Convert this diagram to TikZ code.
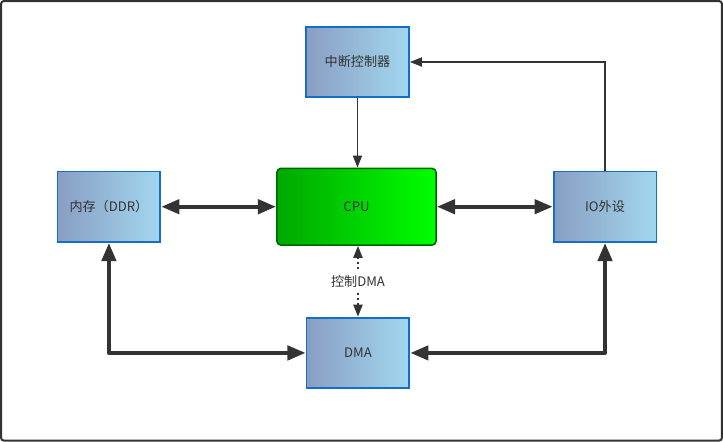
\documentclass[tikz,border=0pt]{standalone}
\usepackage{fontspec}
\setmainfont{Noto Sans CJK SC}
\usetikzlibrary{arrows.meta}
\definecolor{boxblue}{RGB}{20,110,200}
\definecolor{boxleft}{RGB}{137,158,195}
\definecolor{boxright}{RGB}{162,215,238}
\definecolor{cpuleft}{RGB}{0,168,0}
\definecolor{cpuright}{RGB}{0,255,0}
\definecolor{cpuedge}{RGB}{0,100,0}
\definecolor{ink}{RGB}{51,51,51}

\begin{document}
\begin{tikzpicture}[x=1pt,y=-1pt,font=\fontsize{13}{15}\selectfont,text=ink]
    \tikzstyle{unit}=[draw=boxblue,line width=1.8pt,left color=boxleft,right color=boxright,minimum width=102pt,minimum height=70pt,inner sep=0pt]
    \tikzstyle{core}=[draw=cpuedge,line width=1.5pt,rounded corners=4pt,left color=cpuleft,right color=cpuright,minimum width=158pt,minimum height=76pt]
    \tikzstyle{bus}=[line width=4pt,draw=ink,line join=round,{Triangle[length=18pt,width=14pt]}-{Triangle[length=18pt,width=14pt]}]
    \tikzstyle{wire}=[line width=1.8pt,draw=ink,-{Triangle[length=12pt,width=9pt]}]
    \tikzstyle{ctrl}=[line width=2pt,draw=ink,dash pattern=on 2pt off 3pt,{Triangle[length=12pt,width=9pt]}-{Triangle[length=12pt,width=9pt]}]

    % frame
    \draw[ink,line width=2pt,rounded corners=3pt] (4,4) rectangle (719,440);

    \node[unit] (intc) at (357.5,64.5) {中断控制器};
    \node[unit] (mem) at (111,208) {内存（DDR）};
    \node[core] (cpu) at (356.5,208) {CPU};
    \node[unit] (io) at (603,208) {IO外设};
    \node[unit] (dma) at (358,353) {DMA};

    \draw[bus] (mem) -- (cpu);
    \draw[bus] (cpu) -- (io);
    \draw[wire] (intc.south) -- (intc.south |- cpu.north);
    \draw[wire] (io.north) |- (intc.east);
    \draw[bus] (mem.south) |- (dma.west);
    \draw[bus] (io.south) |- (dma.east);
    \draw[ctrl] (dma.north |- cpu.south) -- node[fill=white,inner sep=3pt] {控制DMA} (dma.north);
  \end{tikzpicture}
\end{document}
